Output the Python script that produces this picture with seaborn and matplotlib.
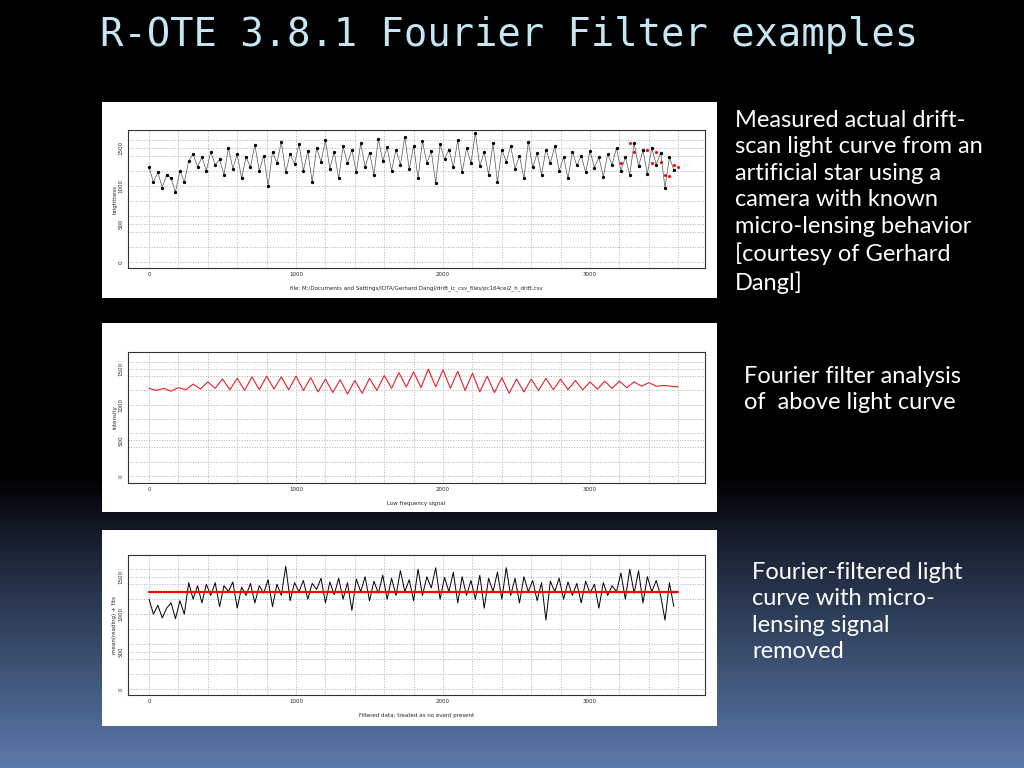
import numpy as np
import matplotlib
matplotlib.use('Agg')
import matplotlib.pyplot as plt
import seaborn as sns
from matplotlib.colors import LinearSegmentedColormap

sns.set_style('whitegrid')

raw_x = np.arange(0, 3600, 30)
raw_y = [1250, 1050, 1180, 980, 1150, 1100, 920, 1200, 1050, 1330, 1420, 1250, 1380, 1200, 1450,
         1280, 1350, 1150, 1500, 1230, 1420, 1100, 1380, 1250, 1540, 1200, 1400, 1000, 1450, 1300,
         1580, 1180, 1420, 1290, 1550, 1200, 1460, 1050, 1500, 1320, 1600, 1230, 1450, 1100, 1520,
         1300, 1480, 1180, 1560, 1250, 1440, 1150, 1620, 1330, 1510, 1200, 1480, 1280, 1650, 1220,
         1530, 1100, 1590, 1300, 1460, 1040, 1550, 1350, 1480, 1250, 1600, 1180, 1500, 1300, 1700,
         1260, 1450, 1150, 1560, 1050, 1480, 1320, 1520, 1230, 1400, 1100, 1580, 1250, 1430, 1150,
         1480, 1300, 1520, 1200, 1380, 1100, 1450, 1270, 1400, 1180, 1460, 1240, 1380, 1120, 1420,
         1280, 1500, 1200, 1380, 1150, 1560, 1260, 1470, 1160, 1500, 1280, 1440, 980, 1380, 1210]
# points flagged in red near the end of the scan
red_x = [3210, 3270, 3300, 3330, 3390, 3420, 3450, 3480, 3510, 3540, 3570, 3600]
red_y = [1300, 1560, 1450, 1260, 1470, 1300, 1450, 1320, 1150, 1130, 1270, 1250]

# low frequency Fourier component
low_x = np.arange(0, 3650, 50)
low_y = [1230, 1200, 1230, 1190, 1240, 1210, 1290, 1220, 1320, 1230, 1360, 1210, 1370, 1200, 1390,
         1210, 1400, 1220, 1390, 1210, 1400, 1200, 1380, 1180, 1360, 1170, 1350, 1150, 1340, 1160,
         1370, 1200, 1410, 1230, 1450, 1250, 1460, 1240, 1500, 1250, 1490, 1230, 1470, 1200, 1440,
         1180, 1400, 1170, 1380, 1160, 1360, 1180, 1360, 1200, 1370, 1210, 1360, 1210, 1340, 1210,
         1320, 1220, 1330, 1230, 1330, 1240, 1320, 1260, 1310, 1260, 1270, 1260, 1250]

# filtered light curve, sampled every 30 frames
filt_x = np.arange(0, 3600, 30)
filt_y = [1200, 1000, 1120, 950, 1080, 1150, 940, 1180, 1000, 1420, 1200, 1380, 1150, 1400, 1250,
          1420, 1100, 1380, 1300, 1430, 1080, 1360, 1250, 1410, 1150, 1380, 1280, 1460, 1100, 1400,
          1250, 1640, 1180, 1420, 1300, 1450, 1200, 1410, 1330, 1480, 1150, 1430, 1260, 1480, 1200,
          1420, 1050, 1470, 1300, 1500, 1180, 1440, 1280, 1520, 1200, 1480, 1250, 1580, 1300, 1460,
          1180, 1600, 1250, 1500, 1350, 1620, 1200, 1490, 1300, 1560, 1150, 1500, 1250, 1450, 1200,
          1520, 1080, 1480, 1300, 1560, 1200, 1620, 1250, 1480, 1150, 1500, 1300, 1450, 1180, 1420,
          920, 1440, 1300, 1480, 1200, 1430, 1250, 1410, 1150, 1440, 1280, 1400, 1080, 1420, 1250,
          1380, 1300, 1550, 1200, 1600, 1280, 1580, 1150, 1500, 1300, 1450, 1250, 920, 1420, 1100]
filt_level = 1290

xticks = [0, 1000, 2000, 3000]
yticks = [0, 500, 1000, 1500]

W, H = 1024, 768
fig = plt.figure(figsize=(W / 100, H / 100), dpi=100)

# slide background: black fading to slate blue
bg = fig.add_axes([0, 0, 1, 1])
cmap = LinearSegmentedColormap.from_list('slide', [(0, '#000000'), (0.62, '#000000'), (0.72, '#1b2436'), (1, '#5b79aa')])
bg.imshow(np.linspace(0, 1, 256).reshape(-1, 1), aspect='auto', cmap=cmap, extent=[0, 1, 0, 1], origin='upper')
bg.axis('off')


def fr(x0, y0, x1, y1):
    return [x0 / W, 1 - y1 / H, (x1 - x0) / W, (y1 - y0) / H]


def panel(box, axbox, ylim, ylabel, xlabel):
    card = fig.add_axes(fr(*box))
    card.set_facecolor('white')
    card.set_xticks([]); card.set_yticks([])
    for s in card.spines.values():
        s.set_visible(False)
    ax = fig.add_axes(fr(*axbox))
    ax.set_facecolor('white')
    ax.set_xlim(-143, 3782)
    ax.set_ylim(*ylim)
    ax.set_xticks(xticks)
    ax.set_yticks(yticks)
    ax.set_xticks(np.arange(0, 3700, 200), minor=True)
    ax.set_yticks(np.arange(0, 1800, 200), minor=True)
    ax.grid(True, which='both', color='#b0b0b0', ls=':', lw=0.7)
    ax.tick_params(labelsize=4, length=2, pad=1)
    for lbl in ax.get_yticklabels():
        lbl.set_rotation(90); lbl.set_va('center')
    for s in ax.spines.values():
        s.set_color('#333333'); s.set_linewidth(0.8)
    ax.set_ylabel(ylabel, fontsize=4, labelpad=1)
    ax.set_xlabel(xlabel, fontsize=4, labelpad=6)
    return ax


ax1 = panel((102, 102, 717, 298), (128, 130, 705, 268), (-79, 1737), 'brightness',
            'file: M:/Documents and Settings/IOTA/Gerhard Dangl/drift_lc_csv_files/pc164cei2_h_drift.csv')
sns.lineplot(x=raw_x, y=raw_y, ax=ax1, color='#555555', lw=0.5, marker='o', markersize=1.6,
             markeredgecolor='black', markerfacecolor='black')
sns.scatterplot(x=red_x, y=red_y, ax=ax1, color='red', s=5, linewidth=0)

ax2 = panel((102, 323, 717, 512), (128, 352, 705, 483), (-99, 1740), 'intensity', 'Low frequency signal')
sns.lineplot(x=low_x, y=low_y, ax=ax2, color='#e8202a', lw=0.8)

ax3 = panel((102, 530, 717, 726), (128, 555, 705, 695), (-80, 1790), 'mean(reading) + fits',
            'Filtered data: treated as no event present')
sns.lineplot(x=filt_x, y=filt_y, ax=ax3, color='black', lw=0.7)
ax3.plot([0, 3600], [filt_level, filt_level], color='red', lw=1.6)

fig.text(100 / W, 1 - 35 / H, 'R-OTE 3.8.1 Fourier Filter examples', family='DejaVu Sans Mono',
         fontsize=28, color='#c7e6f4', va='center')

body = dict(family='Lato', fontsize=17, color='white', va='top', linespacing=1.32)
fig.text(735 / W, 1 - 110 / H, 'Measured actual drift-\nscan light curve from an\nartificial star using a\n'
         'camera with known\nmicro-lensing behavior\n[courtesy of Gerhard\nDangl]', **body)
fig.text(744 / W, 1 - 366 / H, 'Fourier filter analysis\nof  above light curve', **body)
fig.text(752 / W, 1 - 562 / H, 'Fourier-filtered light\ncurve with micro-\nlensing signal\nremoved', **body)

fig.savefig('out.png', dpi=100)
